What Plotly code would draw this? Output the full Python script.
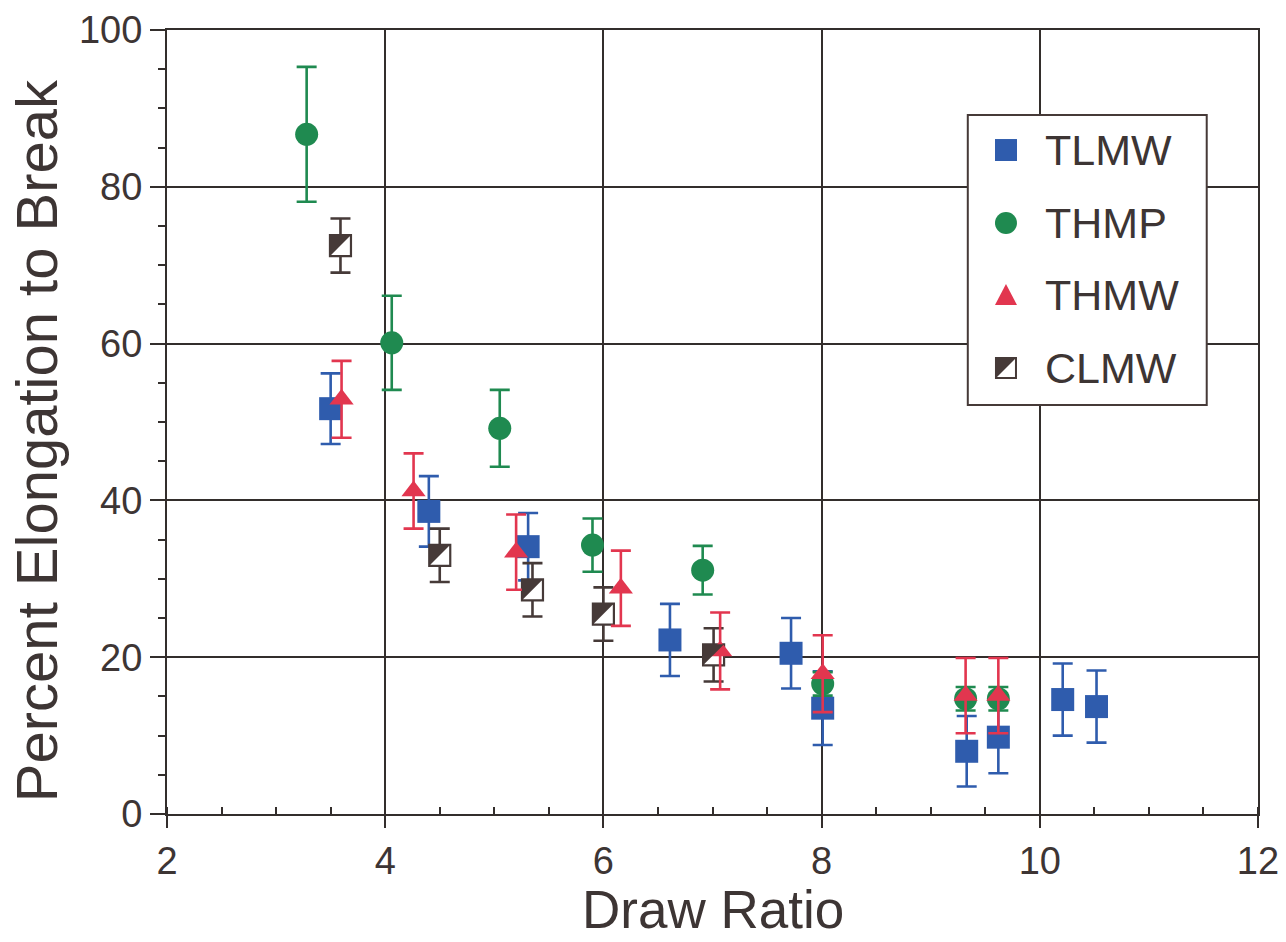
import plotly.graph_objects as go

# Draw ratio, elongation to break (%) and error half-widths per material
tlmw_x = [3.50, 4.40, 5.31, 6.61, 7.72, 8.01, 9.33, 9.62, 10.21, 10.52]
tlmw_y = [51.7, 38.6, 34.1, 22.2, 20.5, 13.5, 8.0, 9.8, 14.6, 13.7]
tlmw_err = [4.5, 4.5, 4.3, 4.6, 4.5, 4.7, 4.5, 4.6, 4.6, 4.6]

thmp_x = [3.28, 4.06, 5.05, 5.90, 6.91, 8.01, 9.32, 9.62]
thmp_y = [86.7, 60.1, 49.2, 34.3, 31.1, 16.6, 14.7, 14.7]
thmp_err = [8.6, 6.0, 4.9, 3.4, 3.1, 1.5, 1.5, 1.5]

thmw_x = [3.60, 4.26, 5.20, 6.16, 7.07, 8.01, 9.32, 9.62]
thmw_y = [52.9, 41.2, 33.4, 28.8, 20.8, 17.9, 15.1, 15.1]
thmw_err = [4.9, 4.8, 4.8, 4.8, 4.9, 4.9, 4.8, 4.8]

clmw_x = [3.59, 4.50, 5.35, 6.00, 7.01]
clmw_y = [72.5, 33.0, 28.6, 25.5, 20.3]
clmw_err = [3.45, 3.4, 3.4, 3.4, 3.4]

series_names = ["TLMW", "THMP", "THMW", "CLMW"]

BLUE = "#2F5CAD"
GREEN = "#1F8A50"
RED = "#E2364F"
DARK = "#463A38"
GRID = "#332E2C"
TEXT = "#3D3534"
FONT = "Liberation Sans, Arial, Helvetica, sans-serif"

fig = go.Figure()


def err(values, color):
    return dict(type="data", array=values, visible=True, color=color,
                thickness=2.6, width=10)


# TLMW: filled blue squares
fig.add_trace(go.Scatter(
    x=tlmw_x, y=tlmw_y, mode="markers", name=series_names[0],
    marker=dict(symbol="square", size=23, color=BLUE, line=dict(width=0)),
    error_y=err(tlmw_err, BLUE), showlegend=False))

# CLMW: white square with dark outline (half fill added as shapes below)
fig.add_trace(go.Scatter(
    x=clmw_x, y=clmw_y, mode="markers", name=series_names[3],
    marker=dict(symbol="square", size=21, color="white",
                line=dict(width=2.2, color=DARK)),
    error_y=err(clmw_err, DARK), showlegend=False))

# THMP: green circles
fig.add_trace(go.Scatter(
    x=thmp_x, y=thmp_y, mode="markers", name=series_names[1],
    marker=dict(symbol="circle", size=23, color=GREEN, line=dict(width=0)),
    error_y=err(thmp_err, GREEN), showlegend=False))

# THMW: red triangles
fig.add_trace(go.Scatter(
    x=thmw_x, y=thmw_y, mode="markers", name=series_names[2],
    marker=dict(symbol="triangle-up", size=21, color=RED, line=dict(width=0)),
    error_y=err(thmw_err, RED), showlegend=False))

HALF = "M -10.5,10.5 L 10.5,10.5 L -10.5,-10.5 Z"
shapes = []
# upper-left dark half of each CLMW marker, anchored on its data point
for xv, yv in zip(clmw_x, clmw_y):
    shapes.append(dict(type="path", xref="x", yref="y", xsizemode="pixel",
                       ysizemode="pixel", xanchor=xv, yanchor=yv, path=HALF,
                       fillcolor=DARK, line=dict(width=0), layer="above"))

# Boxed legend drawn as shapes and annotations
shapes.append(dict(type="rect", xref="paper", yref="paper",
                   x0=0.734, x1=0.953, y0=0.5217, y1=0.8916,
                   line=dict(color=DARK, width=2), fillcolor="white", layer="above"))
legend_x = 0.769
legend_rows = [0.8469, 0.7538, 0.6620, 0.5689]


def pix_shape(kind, yrow, **kw):
    base = dict(type=kind, xref="paper", yref="paper", xsizemode="pixel",
                ysizemode="pixel", xanchor=legend_x, yanchor=yrow, layer="above")
    base.update(kw)
    return base


shapes.append(pix_shape("rect", legend_rows[0], x0=-11, x1=11, y0=-11, y1=11,
                        fillcolor=BLUE, line=dict(width=0)))
shapes.append(pix_shape("circle", legend_rows[1], x0=-11, x1=11, y0=-11, y1=11,
                        fillcolor=GREEN, line=dict(width=0)))
shapes.append(pix_shape("path", legend_rows[2], path="M -11,-10 L 11,-10 L 0,11 Z",
                        fillcolor=RED, line=dict(width=0)))
shapes.append(pix_shape("rect", legend_rows[3], x0=-10, x1=10, y0=-10, y1=10,
                        fillcolor="white", line=dict(width=2, color=DARK)))
shapes.append(pix_shape("path", legend_rows[3], path="M -10,10 L 10,10 L -10,-10 Z",
                        fillcolor=DARK, line=dict(width=0)))

annotations = []
for name, yrow in zip(series_names, legend_rows):
    annotations.append(dict(
        text=name, xref="paper", yref="paper", x=0.803, y=yrow,
        xanchor="left", yanchor="middle", showarrow=False,
        font=dict(family=FONT, size=43, color=TEXT)))

# Axis titles
annotations.append(dict(
    text="Draw Ratio", xref="paper", yref="paper", x=0.5, y=-0.162,
    xanchor="center", yanchor="bottom", showarrow=False,
    font=dict(family=FONT, size=53, color=TEXT)))
annotations.append(dict(
    text="Percent Elongation to Break", xref="paper", yref="paper",
    x=-0.119, y=0.4758, textangle=-90, xanchor="center", yanchor="middle",
    showarrow=False, font=dict(family=FONT, size=58, color=TEXT)))

axis_common = dict(
    showline=True, linewidth=2, linecolor=GRID, mirror=True,
    showgrid=True, gridcolor=GRID, gridwidth=2, zeroline=False,
    ticks="outside", tickwidth=2, tickcolor=GRID,
    tickfont=dict(family=FONT, size=38, color=TEXT), automargin=False,
)

fig.update_layout(
    width=1286, height=942,
    margin=dict(l=167, r=28, t=30, b=128),
    paper_bgcolor="white", plot_bgcolor="white",
    shapes=shapes, annotations=annotations, showlegend=False,
    xaxis=dict(
        range=[2, 12], tick0=2, dtick=2, ticklen=12,
        minor=dict(dtick=0.5, ticks="inside", ticklen=7, tickwidth=1.5,
                   tickcolor=GRID, showgrid=False),
        **axis_common),
    yaxis=dict(
        range=[0, 100], tick0=0, dtick=20, ticklen=15,
        minor=dict(dtick=5, ticks="outside", ticklen=7, tickwidth=1.5,
                   tickcolor=GRID, showgrid=False),
        **axis_common),
)

fig.write_html("out.html")
